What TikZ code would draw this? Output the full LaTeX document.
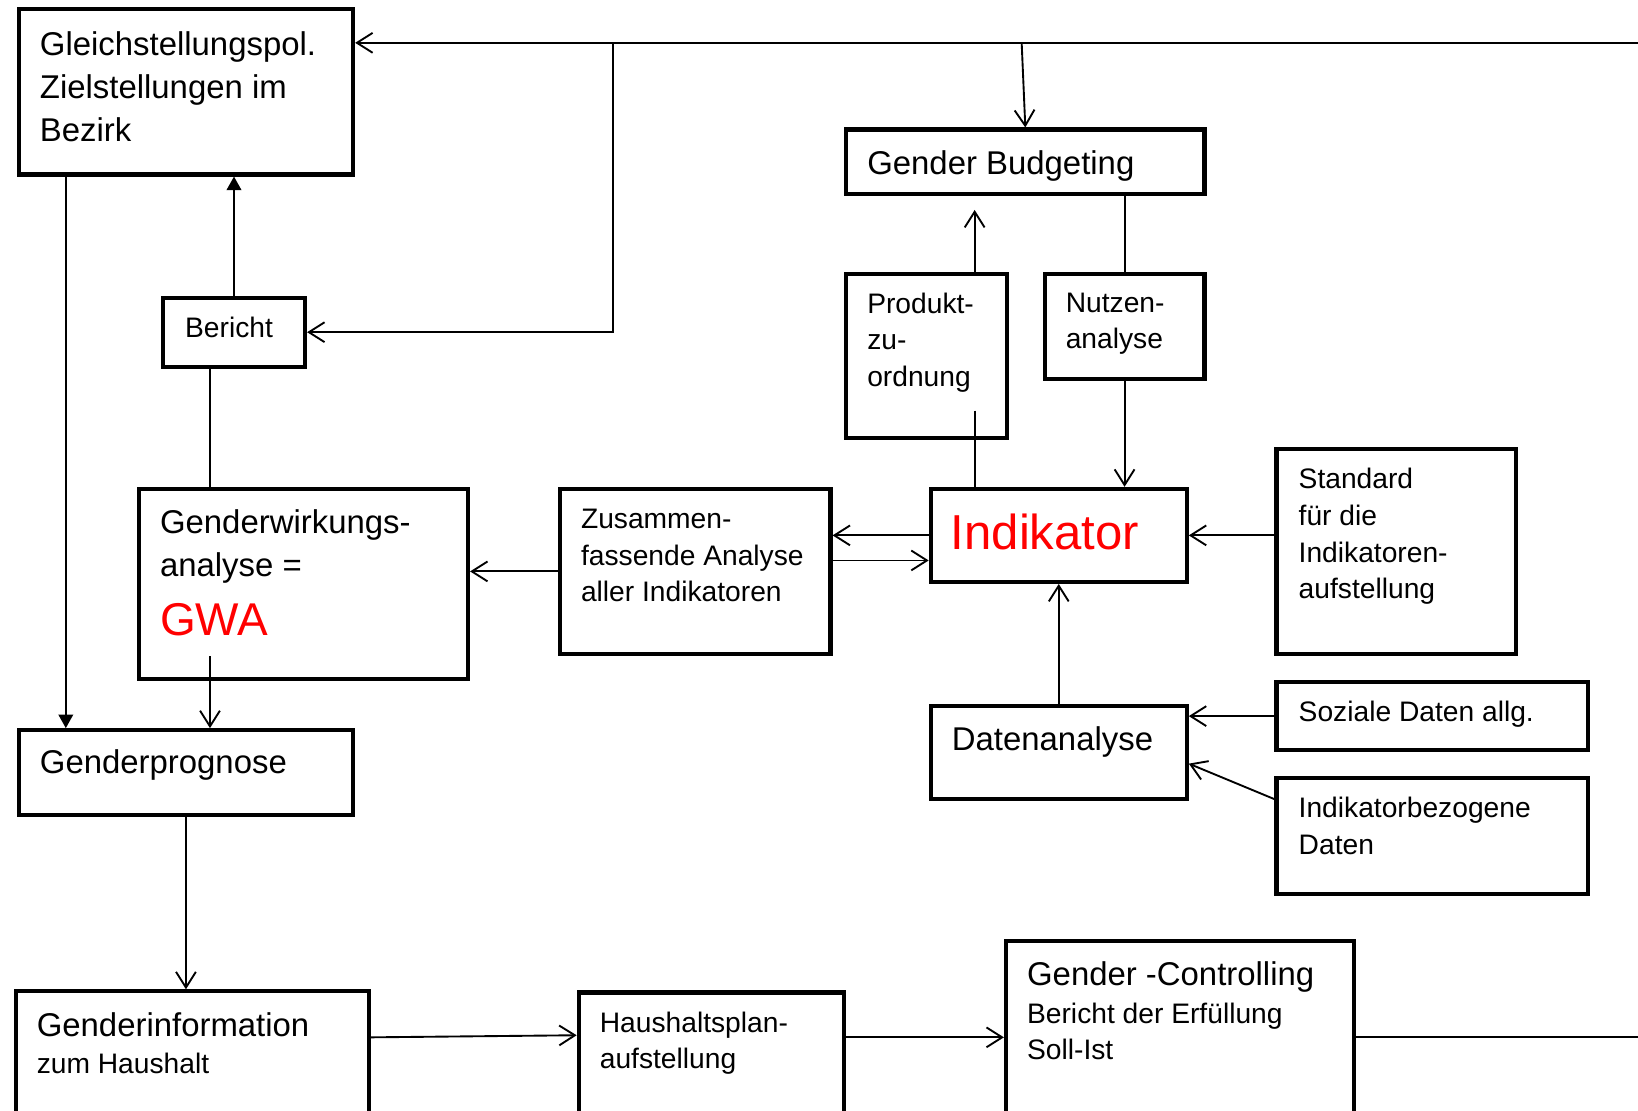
\documentclass[tikz,border=0pt]{standalone}
\usepackage{fontspec}
\setmainfont{Liberation Sans}
\usetikzlibrary{arrows.meta}
\tikzset{
  boxx/.style args={#1/#2}{draw, line width=4pt, inner sep=0pt, minimum width=#1pt, minimum height=#2pt},
  con/.style={line width=1.8pt},
  opn/.style={con, -{Straight Barb[length=15pt,width=19pt]}},
  fil/.style={con, -{Triangle[length=13pt,width=14pt]}},
  tL/.style={inner sep=0pt, anchor=base west, align=left, font=\fontsize{31.5}{41}\selectfont},
  tS/.style={inner sep=0pt, anchor=base west, align=left, font=\fontsize{27}{35}\selectfont},
  tR/.style={inner sep=0pt, anchor=base west, text=red},
}
\begin{document}
\begin{tikzpicture}[x=1pt,y=-1pt]
\useasboundingbox (0,0) rectangle (1568,1063);
% boxes
\node[boxx={320/158}] (gleich) at (178,88) {};
\node[boxx={136/66}] (bericht) at (224,318) {};
\node[boxx={315/182}] (gwa) at (290.5,559) {};
\node[boxx={320/81}] (prog) at (178,739.5) {};
\node[boxx={338/126}] (info) at (184,1012) {};
\node[boxx={254/125}] (haus) at (681,1012.5) {};
\node[boxx={333/174}] (ctrl) at (1129.5,988) {};
\node[boxx={259/158}] (zus) at (665.5,547) {};
\node[boxx={245/89}] (ind) at (1013.5,512.5) {};
\node[boxx={343/62}] (gb) at (981.5,155) {};
\node[boxx={154/157}] (prod) at (887,340.5) {};
\node[boxx={153/101}] (nutz) at (1076.5,312.5) {};
\node[boxx={229/196}] (std) at (1336.5,528) {};
\node[boxx={245/89}] (dat) at (1013.5,720.5) {};
\node[boxx={298/65}] (soz) at (1371,685.5) {};
\node[boxx={298/111}] (ikb) at (1371,800.5) {};
% texts (anchor = baseline of the last line)
\node[tL] (gleich-t) at (38,135) {Gleichstellungspol.\\Zielstellungen im\\Bezirk};
\node[tS] (bericht-t) at (177,323) {Bericht};
\node[tL] (gwa-t) at (153,552) {Genderwirkungs-\\analyse =};
\node[tR, font=\fontsize{44}{50}\selectfont] (gwa-r) at (153,608) {GWA};
\node[tL] (prog-t) at (38,740) {Genderprognose};
\node[tL] (info-t1) at (35,992) {Genderinformation};
\node[tS] (info-t2) at (35,1028) {zum Haushalt};
\node[tS] (haus-t) at (574,1023) {Haushaltsplan-\\aufstellung};
\node[tL] (ctrl-t1) at (983,943) {Gender -Controlling};
\node[tS, font=\fontsize{27}{34}\selectfont] (ctrl-t2) at (983,1014) {Bericht der Erfüllung\\Soll-Ist};
\node[tS] (zus-t) at (556,576) {Zusammen-\\fassende Analyse\\aller Indikatoren};
\node[tR, font=\fontsize{47}{52}\selectfont] (ind-t) at (910,526) {Indikator};
\node[tL] (gb-t) at (830,167) {Gender Budgeting};
\node[tS] (prod-t) at (830,370) {Produkt-\\zu-\\ordnung};
\node[tS] (nutz-t) at (1020,334) {Nutzen-\\analyse};
\node[tS] (std-t) at (1243,573) {Standard\\für die\\Indikatoren-\\aufstellung};
\node[tL] (dat-t) at (911,718) {Datenanalyse};
\node[tS] (soz-t) at (1243,691) {Soziale Daten allg.};
\node[tS] (ikb-t) at (1243,818) {Indikatorbezogene\\Daten};
% coordinates
\coordinate (topR) at (1568,41);
\coordinate (j1) at (587,41);
\coordinate (j2) at (978,41);
\coordinate (g1) at (201,628);
\coordinate (p1) at (933,393);
\coordinate (p2) at (933,201);
\coordinate (z2) at ([yshift=-24pt]ind.west);
\coordinate (k1) at ([yshift=-22pt]ikb.north west);
\coordinate (k2) at ([yshift=-10.5pt]dat.east);
\coordinate (i1) at ([yshift=19pt]info.east);
\coordinate (i2) at ([yshift=21.5pt]haus.west);
\coordinate (h1) at ([yshift=19.5pt]haus.east);
\coordinate (cr) at (1568,993);
\coordinate (b1) at ([xshift=-23pt]bericht.south);
\coordinate (l1) at ([xshift=47pt]gleich.south west);
% connectors
\draw[opn] (topR) -- (topR -| gleich.east);
\draw[opn] (j1) |- (bericht.east);
\draw[opn] (j2) -- (gb.north);
\draw[fil] (bericht.north) -- (bericht.north |- gleich.south);
\draw[con] (b1) -- (b1 |- gwa.north);
\draw[fil] (l1) -- (l1 |- prog.north);
\draw[opn] (g1) -- (g1 |- prog.north);
\draw[opn] (zus.west) -- (zus.west -| gwa.east);
\draw[opn] (ind.west) -- (ind.west -| zus.east);
\draw[opn] (z2 -| zus.east) -- (z2);
\draw[con] (p1) -- (p1 |- ind.north);
\draw[opn] (p1 |- prod.north) -- (p2);
\draw[con] (nutz.north) -- (nutz.north |- gb.south);
\draw[opn] (nutz.south) -- (nutz.south |- ind.north);
\draw[opn] (ind.east -| std.west) -- (ind.east);
\draw[opn] (dat.north) -- (ind.south);
\draw[opn] (soz.west) -- (soz.west -| dat.east);
\draw[opn] (k1) -- (k2);
\draw[opn] (prog.south) -- (prog.south |- info.north);
\draw[opn] (i1) -- (i2);
\draw[opn] (h1) -- (h1 -| ctrl.west);
\draw[con] (cr -| ctrl.east) -- (cr);
\end{tikzpicture}
\end{document}
